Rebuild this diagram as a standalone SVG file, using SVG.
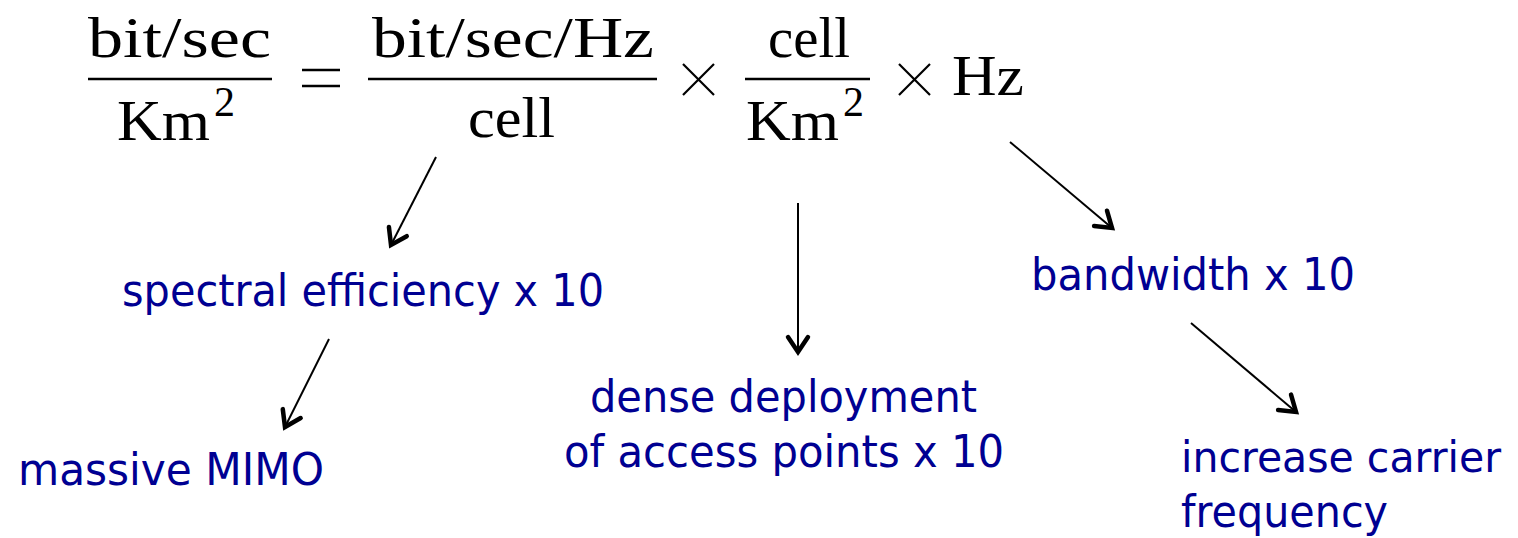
<svg xmlns="http://www.w3.org/2000/svg" width="1518" height="538" viewBox="0 0 1518 538">
<defs>
<style>
.m{font-family:"Liberation Serif","DejaVu Serif",serif;font-size:58px;fill:#000}
.s{font-family:"Liberation Serif","DejaVu Serif",serif;font-size:42px;fill:#000}
.b{font-family:"DejaVu Sans","Liberation Sans",sans-serif;font-size:45px;fill:#000092}
.bar{stroke:#000;stroke-width:2.4}
.c{stroke:#000;stroke-width:2;fill:none;marker-end:url(#ah)}
</style>
<marker id="ah" markerUnits="userSpaceOnUse" markerWidth="40" markerHeight="40" viewBox="-20 -20 40 40" refX="0" refY="0" orient="auto">
<path d="M -15,-10 L 0,0 L -15,10" fill="none" stroke="#000" stroke-width="4.5" stroke-linejoin="miter" stroke-linecap="round"/>
</marker>
</defs>
<g id="formula">
<text class="m" x="88" y="57" textLength="183" lengthAdjust="spacingAndGlyphs">bit/sec</text>
<line class="bar" x1="88" y1="79" x2="272" y2="79"/>
<text class="m" x="117" y="140" textLength="93" lengthAdjust="spacingAndGlyphs">Km</text>
<text class="s" x="214" y="116">2</text>
<line class="bar" x1="302" y1="70" x2="340" y2="70"/>
<line class="bar" x1="302" y1="86" x2="340" y2="86"/>
<text class="m" x="372" y="57" textLength="282" lengthAdjust="spacingAndGlyphs">bit/sec/Hz</text>
<line class="bar" x1="368" y1="79" x2="657" y2="79"/>
<text class="m" x="468" y="137" textLength="87" lengthAdjust="spacingAndGlyphs">cell</text>
<path d="M683,64 L714,95 M714,64 L683,95" stroke="#000" stroke-width="2.2"/>
<text class="m" x="768" y="57" textLength="82" lengthAdjust="spacingAndGlyphs">cell</text>
<line class="bar" x1="745" y1="79" x2="870" y2="79"/>
<text class="m" x="746" y="140" textLength="93" lengthAdjust="spacingAndGlyphs">Km</text>
<text class="s" x="843" y="116">2</text>
<path d="M899,64 L930,95 M930,64 L899,95" stroke="#000" stroke-width="2.2"/>
<text class="m" x="952" y="95" textLength="72" lengthAdjust="spacingAndGlyphs">Hz</text>
</g>
<g id="connectors">
<line class="c" x1="436" y1="157" x2="391" y2="245"/>
<line class="c" x1="329" y1="339" x2="285" y2="427"/>
<line class="c" x1="798" y1="203" x2="798" y2="352"/>
<line class="c" x1="1010" y1="142" x2="1112" y2="228"/>
<line class="c" x1="1191" y1="323" x2="1296" y2="412"/>
</g>
<g id="spectral"><text class="b" x="122" y="306" textLength="482" lengthAdjust="spacingAndGlyphs">spectral efficiency x 10</text></g>
<g id="mimo"><text class="b" x="18" y="485" textLength="306" lengthAdjust="spacingAndGlyphs">massive MIMO</text></g>
<g id="dense">
<text class="b" x="590" y="412" textLength="387" lengthAdjust="spacingAndGlyphs">dense deployment</text>
<text class="b" x="564" y="467" textLength="440" lengthAdjust="spacingAndGlyphs">of access points x 10</text>
</g>
<g id="bandwidth"><text class="b" x="1031" y="290" textLength="324" lengthAdjust="spacingAndGlyphs">bandwidth x 10</text></g>
<g id="carrier">
<text class="b" x="1181" y="472" style="font-size:42.5px" textLength="320" lengthAdjust="spacingAndGlyphs">increase carrier</text>
<text class="b" x="1181" y="527" textLength="207" lengthAdjust="spacingAndGlyphs">frequency</text>
</g>
</svg>
